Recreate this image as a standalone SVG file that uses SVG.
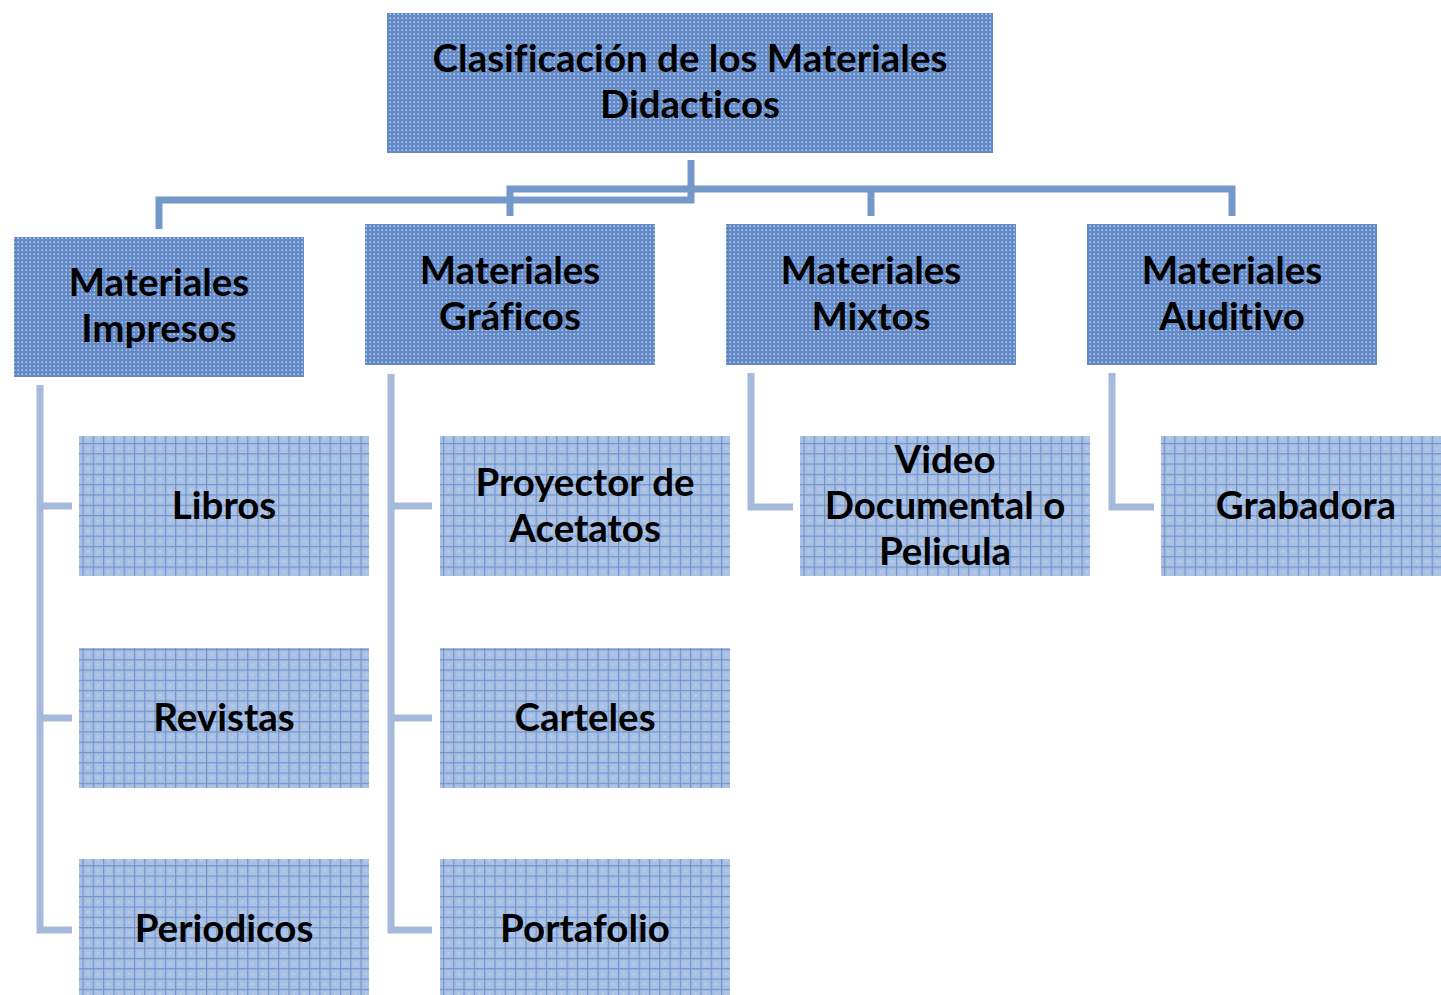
<svg xmlns="http://www.w3.org/2000/svg" width="1441" height="995" viewBox="0 0 1441 995">
<defs>
<pattern id="pTop" width="4" height="4" patternUnits="userSpaceOnUse">
<rect width="4" height="4" fill="#6389c6"/>
<rect x="1" y="1" width="2" height="2" fill="#8aa8d8"/>
<rect x="2" y="2" width="1" height="1" fill="#c4d4ee"/>
</pattern>
<pattern id="pChild" width="10.3" height="10.3" patternUnits="userSpaceOnUse">
<rect width="10.3" height="10.3" fill="#aac1e4"/>
<rect x="0" y="0" width="10.3" height="1.2" fill="#6f95cd"/>
<rect x="0" y="0" width="1.2" height="10.3" fill="#6f95cd"/>
<rect x="5" y="5" width="1" height="1" fill="#e6eefa"/>
</pattern>
</defs>
<style>
.top{fill:url(#pTop);}
.child{fill:url(#pChild);}
text{font-family:Lato,"Liberation Sans",sans-serif;font-weight:bold;font-size:38.5px;fill:#000;text-anchor:middle;font-variant-ligatures:none;}
.main{fill:none;stroke:#7598cb;stroke-width:7;}
.sub{fill:none;stroke:#a5b9da;stroke-width:7;}
</style>
<g id="connectors">
<path class="main" d="M691,160 V200 H159 V229"/>
<path class="main" d="M510,216 V189 H1232 V216"/>
<path class="main" d="M871,189 V216"/>
<path class="sub" d="M40,385 V930 H72"/>
<path class="sub" d="M40,506 H72 M40,718 H72"/>
<path class="sub" d="M391,374 V930 H432"/>
<path class="sub" d="M391,506 H432 M391,718 H432"/>
<path class="sub" d="M751,373 V507 H793"/>
<path class="sub" d="M1112,373 V507 H1154"/>
</g>
<g id="n-title"><rect class="top" x="387" y="13" width="606" height="140"/>
<text x="690" y="72">Clasificación de los Materiales</text><text x="690" y="118">Didacticos</text></g>
<g id="n-impresos"><rect class="top" x="14" y="237" width="290" height="140"/>
<text x="159" y="296">Materiales</text><text x="159" y="342">Impresos</text></g>
<g id="n-graficos"><rect class="top" x="365" y="224" width="290" height="141"/>
<text x="510" y="284">Materiales</text><text x="510" y="330">Gráficos</text></g>
<g id="n-mixtos"><rect class="top" x="726" y="224" width="290" height="141"/>
<text x="871" y="284">Materiales</text><text x="871" y="330">Mixtos</text></g>
<g id="n-auditivo"><rect class="top" x="1087" y="224" width="290" height="141"/>
<text x="1232" y="284">Materiales</text><text x="1232" y="330">Auditivo</text></g>
<g id="n-libros"><rect class="child" x="79" y="436" width="290" height="140"/><text x="224" y="519">Libros</text></g>
<g id="n-revistas"><rect class="child" x="79" y="648" width="290" height="140"/><text x="224" y="731">Revistas</text></g>
<g id="n-periodicos"><rect class="child" x="79" y="859" width="290" height="140"/><text x="224" y="942">Periodicos</text></g>
<g id="n-proyector"><rect class="child" x="440" y="436" width="290" height="140"/><text x="585" y="496">Proyector de</text><text x="585" y="542">Acetatos</text></g>
<g id="n-carteles"><rect class="child" x="440" y="648" width="290" height="140"/><text x="585" y="731">Carteles</text></g>
<g id="n-portafolio"><rect class="child" x="440" y="859" width="290" height="140"/><text x="585" y="942">Portafolio</text></g>
<g id="n-video"><rect class="child" x="800" y="436" width="290" height="140"/><text x="945" y="473">Video</text><text x="945" y="519">Documental o</text><text x="945" y="565">Pelicula</text></g>
<g id="n-grabadora"><rect class="child" x="1161" y="436" width="290" height="140"/><text x="1306" y="519">Grabadora</text></g>
</svg>
